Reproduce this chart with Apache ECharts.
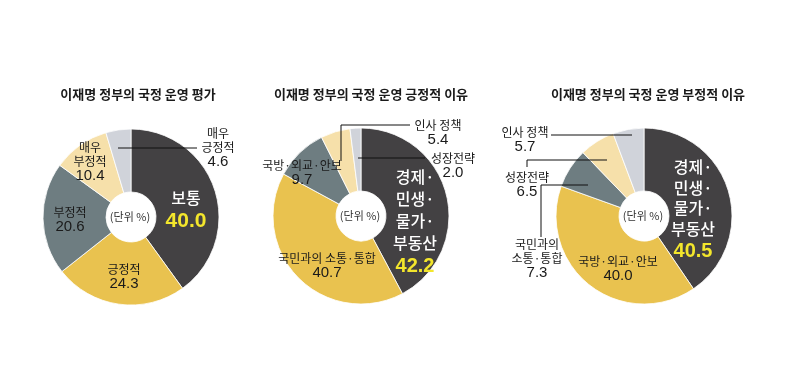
<!DOCTYPE html>
<html><head><meta charset="utf-8">
<script src="https://cdn.jsdelivr.net/npm/echarts@6/dist/echarts.min.js"></script>
<style>html,body{margin:0;padding:0;background:#fff}#c{width:793px;height:385px}</style>
</head><body><div id="c"></div>
<script>
// ---- data ----
const titles = ['이재명 정부의 국정 운영 평가','이재명 정부의 국정 운영 긍정적 이유','이재명 정부의 국정 운영 부정적 이유'];
const unitLabel = '(단위 %)';
const cats1 = ['보통','긍정적','부정적','매우\n부정적','매우\n긍정적'];
const vals1 = [40.0,24.3,20.6,10.4,4.6];
const cats2 = ['경제·\n민생·\n물가·\n부동산','국민과의 소통·통합','국방·외교·안보','인사 정책','성장전략'];
const vals2 = [42.2,40.7,9.7,5.4,2.0];
const cats3 = ['경제·\n민생·\n물가·\n부동산','국방·외교·안보','국민과의\n소통·통합','성장전략','인사 정책'];
const vals3 = [40.5,40.0,7.3,6.5,5.7];

// ---- layout / style ----
const colors = ['#434143','#e9c24f','#6e7d81','#f6e0aa','#d0d3da'];
const centers = [[131,217],[361,216],[644,216]];
const radius = [25,88];
const titleX = [133,366,643];
const KR = "'Noto Sans CJK KR','Noto Sans',sans-serif";
const NUM = "'Liberation Sans Narrow','Liberation Sans',Arial,sans-serif";
// [x, y(middle of block), align]
const labelPos = [
  [[186,210,'center'],[124,277,'center'],[70,220,'center'],[90,162,'center'],[218,148,'center']],
  [[415,222,'center'],[327,266,'center'],[302,173,'center'],[438,133,'center'],[453,166,'center']],
  [[693,210,'center'],[618,269,'center'],[537,259,'center'],[527,185,'center'],[525,140,'center']]
];
const whiteSize = [16,16,16];
const whiteLH = [22,22,20.5];
const bigSize = [21,20,20];
const leaders = [
  [[118,148],[197,148]],
  [[341,161],[341,125],[410,125]],
  [[358,158],[425,158]],
  [[551,135],[632,135]],
  [[527,167],[527,160],[607,160]],
  [[541,237],[541,185],[588,185]]
];

function makeSeries(idx, cats, vals){
  const data = cats.map((n,i)=>({name:n, value:vals[i], itemStyle:{color:colors[i]}}));
  return {
    type:'pie', center:centers[idx], radius:radius, startAngle:90, clockwise:true,
    avoidLabelOverlap:false, silent:true, animation:false,
    itemStyle:{borderColor:'#fff', borderWidth:0.8},
    labelLine:{show:false},
    label:{
      show:true, position:'inside',
      formatter:(p)=>{
        const big = p.dataIndex===0;
        const lines = p.name.split('\n').map(s=>'{'+(big?'w':'n')+'|'+s+'}');
        return lines.join('\n') + '\n{' + (big?'y':'v') + '|' + Number(p.value).toFixed(1) + '}';
      },
      rich:{
        w:{color:'#ffffff', fontFamily:KR, fontSize:whiteSize[idx], fontWeight:500, lineHeight:whiteLH[idx]},
        y:{color:'#f3e62c', fontFamily:NUM, fontSize:bigSize[idx], fontWeight:'bold', lineHeight:24},
        n:{color:'#1a1a1a', fontFamily:KR, fontSize:12, lineHeight:14},
        v:{color:'#1a1a1a', fontFamily:NUM, fontSize:15, lineHeight:16}
      }
    },
    labelLayout:(p)=>{const L=labelPos[idx][p.dataIndex]; return {x:L[0], y:L[1], align:L[2], verticalAlign:'middle'};},
    data:data
  };
}

const chart = echarts.init(document.getElementById('c'), null, {renderer:'canvas'});
const graphics = [];
leaders.forEach(pts=>graphics.push({type:'polyline', z:100, shape:{points:pts}, style:{stroke:'#111', lineWidth:1, fill:null}}));
centers.forEach(c=>graphics.push({type:'text', z:100, x:c[0]-1, y:c[1], style:{text:unitLabel, x:0, y:0, align:'center', verticalAlign:'middle', fill:'#333', font:"11px 'Noto Sans CJK KR'"}}));

chart.setOption({
  backgroundColor:'#ffffff',
  animation:false,
  title: titles.map((t,i)=>({text:t, left:titleX[i], top:83, textAlign:'center',
    textStyle:{fontFamily:KR, fontSize:13, fontWeight:'bold', color:'#1a1a1a'}})),
  series:[makeSeries(0,cats1,vals1), makeSeries(1,cats2,vals2), makeSeries(2,cats3,vals3)],
  graphic:graphics
});
</script></body></html>
